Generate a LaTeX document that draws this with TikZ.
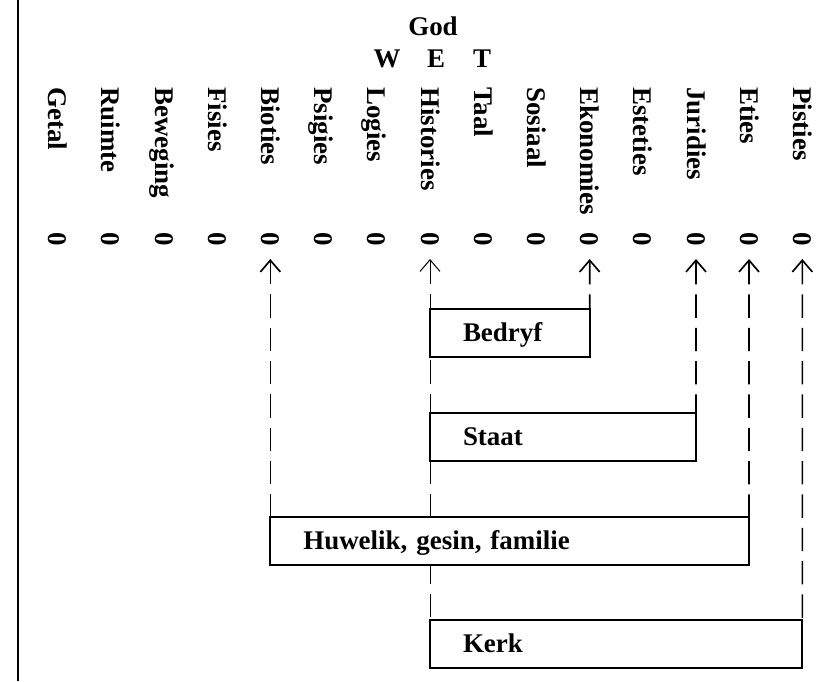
\documentclass[tikz,border=0pt]{standalone}
\usepackage{fontspec}
\setmainfont{Liberation Serif}
\usetikzlibrary{arrows.meta,backgrounds}
\tikzset{
	txt/.style={inner sep=0, font=\fontsize{23}{27}\selectfont\bfseries},
	aspect/.style={txt, rotate=-90, anchor=west, text height=15pt, text depth=0pt},
	nul/.style={txt, rotate=-90},
	box/.style={txt, draw, fill=white, line width=0.06cm, outer sep=0, anchor=north west,
		minimum height=1.44cm, inner xsep=0.99cm, align=left, text height=15pt, text depth=0pt},
	dep/.style={line width=0.05cm, dash pattern=on 0.7cm off 0.3cm, shorten <=0.6cm,
		{Straight Barb[length=0.35cm,width=0.6cm]}-},
}
\begin{document}
\begin{tikzpicture}
		%%%%% START %%%%%
		\useasboundingbox (0, 0) rectangle (25.14, -20.43);
		\draw[line width=0.07cm] (0.54, 0) -- (0.54, -20.43);
		
		\node[txt, anchor=base] (god) at (12.99, -1.05) {God};
		\node[txt, anchor=base] (w) at (11.61, -2.01) {W};
		\node[txt, anchor=base] (e) at (13.08, -2.01) {E};
		\node[txt, anchor=base] (t) at (14.46, -2.01) {T};
		
		\node[aspect] (getal) at (1.73, -2.61) {Getal};
		\node[aspect] (ruimte) at (3.32, -2.61) {Ruimte};
		\node[aspect] (beweging) at (4.92, -2.61) {Beweging};
		\node[aspect] (fisies) at (6.51, -2.61) {Fisies};
		\node[aspect] (bioties) at (8.11, -2.61) {Bioties};
		\node[aspect] (psigies) at (9.71, -2.61) {Psigies};
		\node[aspect] (logies) at (11.30, -2.61) {Logies};
		\node[aspect] (histories) at (12.90, -2.61) {Histories};
		\node[aspect] (taal) at (14.49, -2.61) {Taal};
		\node[aspect] (sosiaal) at (16.09, -2.61) {Sosiaal};
		\node[aspect] (ekonomies) at (17.69, -2.61) {Ekonomies};
		\node[aspect] (esteties) at (19.28, -2.61) {Esteties};
		\node[aspect] (juridies) at (20.88, -2.61) {Juridies};
		\node[aspect] (eties) at (22.47, -2.61) {Eties};
		\node[aspect] (pisties) at (24.07, -2.61) {Pisties};
		
		\node[nul] (zgetal) at (1.73, -7.17) {0};
		\node[nul] (zruimte) at (3.32, -7.17) {0};
		\node[nul] (zbeweging) at (4.92, -7.17) {0};
		\node[nul] (zfisies) at (6.51, -7.17) {0};
		\node[nul] (zbioties) at (8.11, -7.17) {0};
		\node[nul] (zpsigies) at (9.71, -7.17) {0};
		\node[nul] (zlogies) at (11.30, -7.17) {0};
		\node[nul] (zhistories) at (12.90, -7.17) {0};
		\node[nul] (ztaal) at (14.49, -7.17) {0};
		\node[nul] (zsosiaal) at (16.09, -7.17) {0};
		\node[nul] (zekonomies) at (17.69, -7.17) {0};
		\node[nul] (zesteties) at (19.28, -7.17) {0};
		\node[nul] (zjuridies) at (20.88, -7.17) {0};
		\node[nul] (zeties) at (22.47, -7.17) {0};
		\node[nul] (zpisties) at (24.07, -7.17) {0};
		
		\node[box, text width=2.81cm] (bedryf) at (12.90, -9.27) {Bedryf};
		\node[box, text width=6.00cm] (staat) at (12.90, -12.39) {Staat};
		\node[box, text width=12.38cm] (huwelik) at (8.11, -15.51) {Huwelik, gesin, familie};
		\node[box, text width=9.19cm] (kerk) at (12.90, -18.60) {Kerk};
		
		\begin{scope}[on background layer]
		\draw[dep, line width=0.03cm] (zhistories.center) -- (kerk.north west);
		\draw[dep] (zbioties.center) -- (huwelik.north west);
		\draw[dep] (zekonomies.center) -- (bedryf.north east);
		\draw[dep] (zjuridies.center) -- (staat.north east);
		\draw[dep] (zeties.center) -- (huwelik.north east);
		\draw[dep] (zpisties.center) -- (kerk.north east);
		\end{scope}
		%%%%% END %%%%%
	\end{tikzpicture}
\end{document}
